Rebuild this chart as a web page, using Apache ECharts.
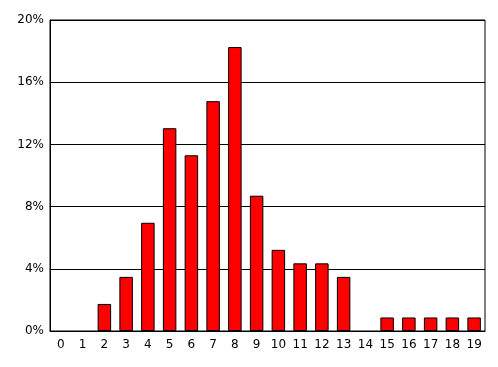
<!DOCTYPE html>
<html>
<head>
<meta charset="utf-8">
<script src="https://cdn.jsdelivr.net/npm/echarts@6/dist/echarts.min.js"></script>
<style>
html,body{margin:0;padding:0;background:#fff;}
#chart{width:498px;height:367px;}
</style>
</head>
<body>
<div id="chart"></div>
<script>
var categories = ['0','1','2','3','4','5','6','7','8','9','10','11','12','13','14','15','16','17','18','19'];
var values = [0, 0, 1.74, 3.48, 6.96, 13.04, 11.30, 14.78, 18.26, 8.70, 5.22, 4.35, 4.35, 3.48, 0, 0.87, 0.87, 0.87, 0.87, 0.87];
var yTicks = [0, 4, 8, 12, 16, 20];

var chart = echarts.init(document.getElementById('chart'), null, {renderer: 'canvas'});
chart.setOption({
  animation: false,
  backgroundColor: '#ffffff',
  grid: {left: 50, top: 20, right: 13, bottom: 36, show: true, borderColor: '#000', borderWidth: 1, containLabel: false},
  xAxis: {
    type: 'category',
    data: categories,
    axisLine: {show: true, lineStyle: {color: '#000', width: 1}},
    axisTick: {show: false},
    axisLabel: {color: '#000', fontFamily: 'DejaVu Sans', fontSize: 12, margin: 8, interval: 0}
  },
  yAxis: {
    type: 'value',
    min: yTicks[0],
    max: yTicks[yTicks.length - 1],
    interval: 4,
    axisLine: {show: true, lineStyle: {color: '#000', width: 1}},
    axisTick: {show: false},
    splitLine: {show: true, lineStyle: {color: '#000', width: 1}},
    axisLabel: {color: '#000', fontFamily: 'DejaVu Sans', fontSize: 12, margin: 6, formatter: '{value}%'}
  },
  series: [{
    type: 'bar',
    data: values.map(function (v) { return v === 0 ? '-' : v; }),
    barCategoryGap: '38%',
    itemStyle: {color: '#ff0000', borderColor: '#000', borderWidth: 1}
  }]
});
</script>
</body>
</html>
